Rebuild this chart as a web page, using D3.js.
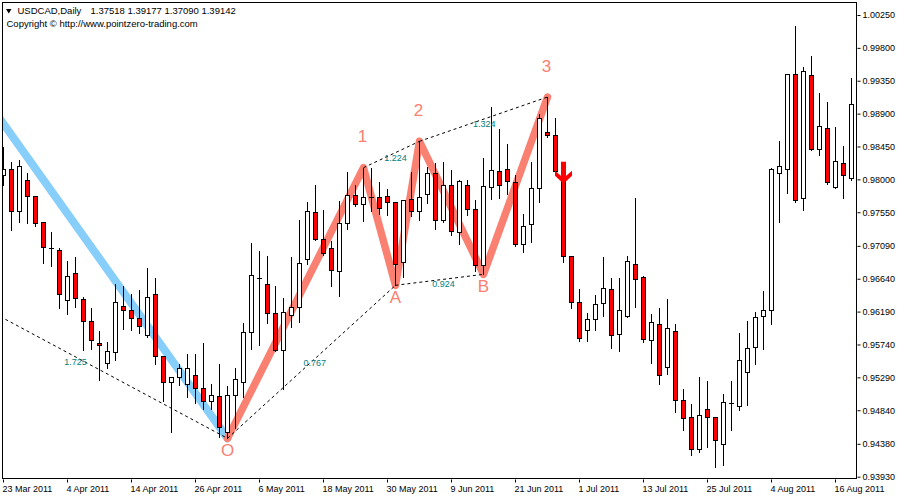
<!DOCTYPE html>
<html>
<head>
<meta charset="utf-8">
<script src="https://cdn.jsdelivr.net/npm/d3@7"></script>
<style>
  html, body { margin: 0; padding: 0; background: #ffffff; }
  svg { display: block; }
</style>
</head>
<body>
<svg id="chart" width="900" height="500"></svg>
<script>
// ---- header texts ----
const symbolTitle = "USDCAD,Daily";
const quoteLine = ["1.37518", "1.39177", "1.37090", "1.39142"];
const copyrightLine = "Copyright \u00A9 http://www.pointzero-trading.com";

// ---- trading calendar (daily bars, weekdays) ----
const firstDay = new Date(2011, 2, 23);
const lastDay = new Date(2011, 7, 18);

// ---- daily OHLC ----
const opens = [
  0.98060, 0.98138, 0.97567, 0.97987, 0.97772, 0.97412, 0.97056, 0.97029, 0.96344, 0.96714,
  0.96358, 0.96057, 0.95756, 0.95482, 0.95633, 0.96262, 0.96208, 0.96098, 0.95865, 0.96427,
  0.95578, 0.95222, 0.95290, 0.95195, 0.95318, 0.95140, 0.94962, 0.95030, 0.94537, 0.95044,
  0.95222, 0.95906, 0.96646, 0.96563, 0.96166, 0.95660, 0.96139, 0.96249, 0.96906, 0.97549,
  0.97179, 0.97056, 0.96741, 0.97399, 0.97782, 0.97659, 0.97760, 0.97754, 0.97768, 0.97686,
  0.96865, 0.97727, 0.97563, 0.97796, 0.98083, 0.97440, 0.97919, 0.97275, 0.97919, 0.97590,
  0.96824, 0.97891, 0.98110, 0.98138, 0.97960, 0.97111, 0.97385, 0.97878, 0.98644, 0.98603,
  0.98019, 0.96947, 0.96317, 0.95934, 0.96084, 0.96303, 0.96495, 0.95879, 0.96125, 0.96837,
  0.96659, 0.95797, 0.96016, 0.95427, 0.95920, 0.94976, 0.94743, 0.94305, 0.94852, 0.94743,
  0.94373, 0.94943, 0.94893, 0.95359, 0.95701, 0.96125, 0.96208, 0.98083, 0.98138, 0.99438,
  0.97741, 0.99425, 0.98412, 0.98699, 0.97891, 0.98220, 0.98015
];
const highs = [
  0.98443, 0.98234, 0.98265, 0.98083, 0.97775, 0.97415, 0.97279, 0.97056, 0.96878, 0.96937,
  0.96386, 0.96235, 0.95920, 0.95769, 0.96563, 0.96540, 0.96431, 0.96485, 0.96787, 0.96650,
  0.95582, 0.95290, 0.95468, 0.95605, 0.95605, 0.95756, 0.95195, 0.95468, 0.95167, 0.95414,
  0.96030, 0.97125, 0.97019, 0.96947, 0.96536, 0.96376, 0.96933, 0.97440, 0.97686, 0.97919,
  0.97576, 0.97152, 0.97700, 0.98097, 0.97919, 0.98160, 0.98151, 0.97960, 0.97864, 0.97690,
  0.97713, 0.98097, 0.98521, 0.98165, 0.98220, 0.98234, 0.98124, 0.97987, 0.97987, 0.97713,
  0.98288, 0.98986, 0.98685, 0.98480, 0.98056, 0.97522, 0.98234, 0.98895, 0.99127, 0.98836,
  0.98101, 0.96950, 0.96495, 0.96166, 0.96413, 0.96933, 0.96646, 0.96646, 0.96947, 0.97745,
  0.96673, 0.96153, 0.96235, 0.96358, 0.96016, 0.95126, 0.94921, 0.95290, 0.95236, 0.94746,
  0.95058, 0.95236, 0.95901, 0.96065, 0.96180, 0.96468, 0.98151, 0.98521, 0.99438, 1.00095,
  0.99534, 0.99685, 0.99178, 0.99055, 0.98713, 0.98453, 0.99383
];
const lows = [
  0.97923, 0.97307, 0.97412, 0.97399, 0.97366, 0.96859, 0.96818, 0.96243, 0.96153, 0.96257,
  0.95664, 0.95682, 0.95249, 0.95422, 0.95527, 0.95947, 0.95934, 0.95893, 0.95838, 0.95468,
  0.94962, 0.94537, 0.95181, 0.95017, 0.94934, 0.94852, 0.94852, 0.94477, 0.94455, 0.94592,
  0.95025, 0.95674, 0.95728, 0.96030, 0.95655, 0.95126, 0.95975, 0.96043, 0.96837, 0.97166,
  0.96960, 0.96536, 0.96399, 0.97316, 0.97635, 0.97426, 0.97563, 0.97522, 0.97508, 0.96550,
  0.96659, 0.97494, 0.97440, 0.97672, 0.97316, 0.97416, 0.97234, 0.97111, 0.97508, 0.96741,
  0.96700, 0.97727, 0.97741, 0.97796, 0.97088, 0.97002, 0.97138, 0.97686, 0.98576, 0.98105,
  0.96873, 0.96235, 0.95791, 0.95791, 0.95934, 0.96125, 0.95687, 0.95646, 0.96122, 0.96257,
  0.95769, 0.95482, 0.95195, 0.95331, 0.94811, 0.94565, 0.94223, 0.94264, 0.94340, 0.94058,
  0.94086, 0.94565, 0.94839, 0.94907, 0.95468, 0.95674, 0.96016, 0.97412, 0.97809, 0.97686,
  0.97576, 0.98398, 0.98329, 0.97932, 0.97882, 0.97741, 0.97987
];
const closes = [
  0.98138, 0.97567, 0.98183, 0.97768, 0.97399, 0.97070, 0.97056, 0.96427, 0.96673, 0.96372,
  0.96057, 0.95797, 0.95728, 0.95646, 0.96317, 0.96208, 0.96098, 0.95989, 0.96386, 0.95578,
  0.95222, 0.95290, 0.95414, 0.95414, 0.95140, 0.94962, 0.95044, 0.94606, 0.95044, 0.95263,
  0.95906, 0.96687, 0.96646, 0.96166, 0.95660, 0.96180, 0.96249, 0.96851, 0.97563, 0.97179,
  0.96988, 0.96755, 0.97399, 0.97782, 0.97659, 0.97754, 0.97760, 0.97604, 0.97686, 0.96837,
  0.97713, 0.97563, 0.97754, 0.98083, 0.97440, 0.97919, 0.97289, 0.97973, 0.97590, 0.96824,
  0.97905, 0.98124, 0.97919, 0.97973, 0.97111, 0.97357, 0.97878, 0.98836, 0.98603, 0.98110,
  0.96947, 0.96317, 0.95824, 0.96084, 0.96290, 0.96509, 0.95865, 0.96208, 0.96878, 0.96632,
  0.95811, 0.96043, 0.95318, 0.95961, 0.94976, 0.94729, 0.94305, 0.94770, 0.94743, 0.94428,
  0.94948, 0.94943, 0.95523, 0.95687, 0.96112, 0.96208, 0.98138, 0.98179, 0.99438, 0.97713,
  0.99479, 0.98412, 0.98726, 0.97960, 0.98247, 0.98056, 0.99028
];

// ---- axis labels ----
const priceTicks = ["1.00250", "0.99800", "0.99350", "0.98900", "0.98450", "0.98000", "0.97550",
  "0.97090", "0.96640", "0.96190", "0.95740", "0.95290", "0.94840", "0.94380", "0.93930"];
const dateTicks = ["23 Mar 2011", "4 Apr 2011", "14 Apr 2011", "26 Apr 2011", "6 May 2011",
  "18 May 2011", "30 May 2011", "9 Jun 2011", "21 Jun 2011", "1 Jul 2011", "13 Jul 2011",
  "25 Jul 2011", "4 Aug 2011", "16 Aug 2011"];

// ---- harmonic pattern: pivot bars (O, 1, A, 2, B, 3) ----
const pivotNames = ["O", "1", "A", "2", "B", "3"];
const pivotBars  = [28, 45, 49, 52, 60, 68];
const pivotKinds = ["low", "high", "low", "high", "low", "high"];
// leg origin before the visible window, and the trend line start
const legStart = { bar: -11, price: 0.96744 };
const trendStart = { bar: -2, price: 0.99069 };
// Fibonacci ratio labels of the dotted legs
const ratioTexts = ["1.725", "0.767", "1.224", "0.924", "1.324"];
const ratioBars = [9.0, 38.9, 49.0, 55.0, 60.1];
const ratioPrices = [0.95500, 0.95486, 0.98292, 0.96568, 0.98758];
// sell signal arrow (tip)
const sellSignal = { bar: 70, price: 0.97946 };

// ---- layout ----
const W = 900, H = 500;
const plot = { left: 3, top: 3, right: 857, bottom: 479 };
const FONT = "'Liberation Sans', Arial, sans-serif";
const SALMON = "#FA8072", SKY = "#87CEFA", TEAL = "#008080";

const svg = d3.select("#chart");

const tradingDays = d3.timeDay.range(firstDay, d3.timeDay.offset(lastDay, 1))
  .filter(d => d.getDay() !== 0 && d.getDay() !== 6);
const fmtDate = d3.timeFormat("%-d %b %Y");

const bars = tradingDays.map((d, i) => ({
  date: d, i, o: opens[i], h: highs[i], l: lows[i], c: closes[i]
}));

// x: bar index -> left pixel column of the bar centre
const x = d3.scaleLinear().domain([0, bars.length - 1]).range([3, 3 + 8 * (bars.length - 1)]);
const y = d3.scaleLinear().domain([0.9393, 1.0025]).range([476.7, 15]);
const cx = i => x(i) + 0.5;

svg.append("rect").attr("width", W).attr("height", H).attr("fill", "#fff");

svg.append("defs").append("clipPath").attr("id", "plotClip")
  .append("rect")
  .attr("x", plot.left).attr("y", plot.top)
  .attr("width", plot.right - plot.left).attr("height", plot.bottom - plot.top);

const layer = svg.append("g").attr("clip-path", "url(#plotClip)");

// pivots resolved from the price arrays
const pivots = pivotBars.map((b, k) => ({
  name: pivotNames[k], bar: b, kind: pivotKinds[k],
  price: pivotKinds[k] === "low" ? lows[b] : highs[b]
}));
const P = Object.fromEntries(pivots.map(p => [p.name, p]));

const line = d3.line().x(d => cx(d.bar)).y(d => y(d.price));

// trend line into the O low
layer.append("path")
  .attr("d", line([trendStart, P.O]))
  .attr("fill", "none").attr("stroke", SKY).attr("stroke-width", 8)
  .attr("stroke-linecap", "round");

// zigzag O-1-A-2-B-3
layer.append("path")
  .attr("d", line(pivots))
  .attr("fill", "none").attr("stroke", SALMON).attr("stroke-width", 7.5)
  .attr("stroke-linejoin", "round").attr("stroke-linecap", "round");

// dotted ratio legs
const legs = [[legStart, P.O], [P.O, P.A], [P["1"], P["2"]], [P.A, P.B], [P["2"], P["3"]]];
layer.selectAll("path.leg").data(legs).join("path")
  .attr("class", "leg")
  .attr("d", d => line(d))
  .attr("fill", "none").attr("stroke", "#000").attr("stroke-width", 1)
  .attr("stroke-dasharray", "3,3");

// candles
const yr = p => Math.round(y(p));
const candle = layer.selectAll("g.bar").data(bars).join("g").attr("class", "bar");
candle.append("line")
  .attr("x1", d => cx(d.i)).attr("x2", d => cx(d.i))
  .attr("y1", d => yr(d.h)).attr("y2", d => yr(d.l) + 1)
  .attr("stroke", "#000").attr("stroke-width", 1);
candle.each(function(d) {
  const g = d3.select(this);
  const top = yr(Math.max(d.o, d.c)), bot = yr(Math.min(d.o, d.c));
  if (bot - top < 1) {
    g.append("line")
      .attr("x1", cx(d.i) - 2.5).attr("x2", cx(d.i) + 2.5)
      .attr("y1", top + 0.5).attr("y2", top + 0.5)
      .attr("stroke", "#000").attr("stroke-width", 1);
  } else {
    g.append("rect")
      .attr("x", cx(d.i) - 2).attr("y", top + 0.5)
      .attr("width", 4).attr("height", bot - top)
      .attr("fill", d.c < d.o ? "#FF0000" : "#FFFFFF")
      .attr("stroke", "#000").attr("stroke-width", 1);
  }
});

// ratio labels
layer.selectAll("text.ratio").data(ratioTexts).join("text")
  .attr("class", "ratio")
  .attr("x", (t, k) => cx(ratioBars[k]))
  .attr("y", (t, k) => y(ratioPrices[k]))
  .attr("dy", "0.36em")
  .attr("text-anchor", "middle")
  .attr("font-family", FONT).attr("font-size", 9)
  .attr("fill", TEAL)
  .text(t => t);

// pivot names
layer.selectAll("text.pivot").data(pivots).join("text")
  .attr("class", "pivot")
  .attr("x", d => cx(d.bar) - (d.kind === "high" ? 1 : 0))
  .attr("y", d => y(d.price) + (d.kind === "low" ? 11.5 : -31.5))
  .attr("dy", "0.36em")
  .attr("text-anchor", "middle")
  .attr("font-family", FONT).attr("font-size", 17)
  .attr("fill", SALMON)
  .text(d => d.name);

// sell arrow
{
  const ax = cx(sellSignal.bar), ty = y(sellSignal.price);
  const g = layer.append("g").attr("fill", "#FF0000");
  g.append("rect").attr("x", ax - 2.5).attr("y", ty - 21.6).attr("width", 5).attr("height", 18);
  g.append("polygon").attr("points", [
    [ax - 8.5, ty - 12.6], [ax, ty - 5.2], [ax + 8.5, ty - 12.6],
    [ax + 8.5, ty - 7.6], [ax, ty + 0.4], [ax - 8.5, ty - 7.6]
  ].map(p => p.join(",")).join(" "));
}

// frame
svg.append("rect")
  .attr("x", plot.left - 0.5).attr("y", plot.top - 0.5)
  .attr("width", plot.right - plot.left).attr("height", plot.bottom - plot.top)
  .attr("fill", "none").attr("stroke", "#000").attr("stroke-width", 1);

// price axis
const yAxis = d3.axisRight(y)
  .tickValues(priceTicks.map(Number))
  .tickFormat((d, k) => priceTicks[k])
  .tickSize(3).tickPadding(2);
svg.append("g")
  .attr("transform", `translate(${plot.right + 0.5},0)`)
  .call(yAxis)
  .call(g => g.select(".domain").remove())
  .attr("font-family", FONT).attr("font-size", 9)
  .call(g => g.selectAll("text").attr("fill", "#000"))
  .call(g => g.selectAll("line").attr("stroke", "#000"));

// date axis
const tickBars = dateTicks.map(t => tradingDays.findIndex(d => fmtDate(d) === t));
const xAxis = d3.axisBottom(x)
  .tickValues(tickBars)
  .tickFormat((d, k) => dateTicks[k])
  .tickSize(3).tickPadding(3);
svg.append("g")
  .attr("transform", `translate(0,${plot.bottom + 0.5})`)
  .call(xAxis)
  .call(g => g.select(".domain").remove())
  .attr("font-family", FONT).attr("font-size", 9)
  .call(g => g.selectAll("text").attr("fill", "#000").attr("text-anchor", "start").attr("x", -1))
  .call(g => g.selectAll("line").attr("stroke", "#000"));

// header
svg.append("polygon")
  .attr("points", "6,9 11.5,9 8.75,13.5")
  .attr("fill", "#000");
svg.append("text")
  .attr("x", 17.5).attr("y", 14)
  .attr("font-family", FONT).attr("font-size", 9.5).attr("fill", "#000")
  .text(symbolTitle);
svg.append("text")
  .attr("x", 90.5).attr("y", 14)
  .attr("font-family", FONT).attr("font-size", 9.5).attr("fill", "#000")
  .text(quoteLine.join(" "));
svg.append("text")
  .attr("x", 6.5).attr("y", 27.3)
  .attr("font-family", FONT).attr("font-size", 9.5).attr("fill", "#000")
  .text(copyrightLine);
</script>
</body>
</html>
